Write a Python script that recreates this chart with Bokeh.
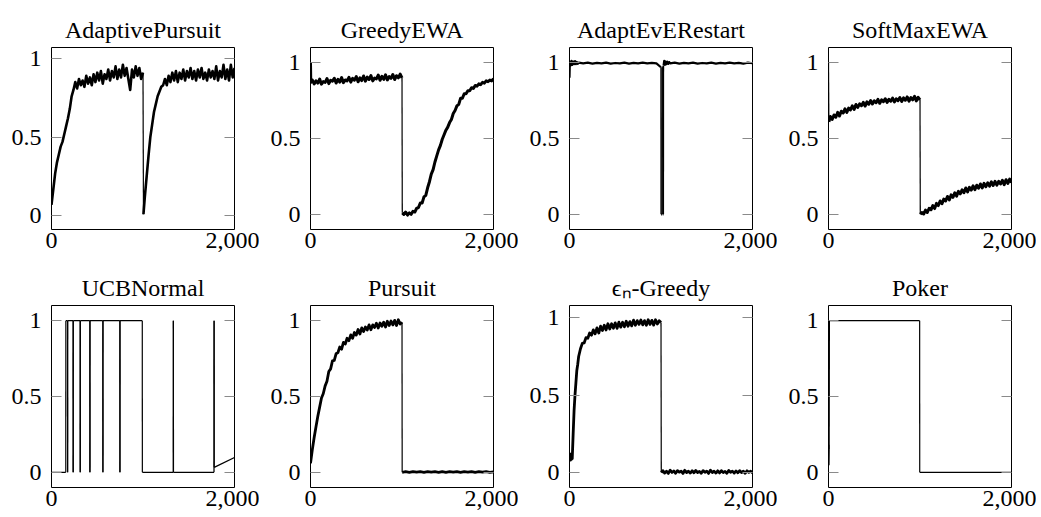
from bokeh.plotting import figure
from bokeh.layouts import gridplot
from bokeh.models import Range1d, FixedTicker, LinearAxis
from bokeh.embed import file_html
from bokeh.resources import INLINE

# ---------------- data ----------------
titles = ["AdaptivePursuit", "GreedyEWA", "AdaptEvERestart", "SoftMaxEWA",
          "UCBNormal", "Pursuit", "\u03f5\u2099-Greedy", "Poker"]

x_ticks = [0, 2000]
x_tick_labels = {0: "0", 2000: "2,000"}
y_ticks = [0, 0.5, 1]
y_tick_labels = {0: "0", 0.5: "0.5", 1: "1"}

y_ranges = [(-0.087, 1.07), (-0.1, 1.1), (-0.1, 1.1), (-0.1, 1.1),
            (-0.1, 1.1), (-0.1, 1.1), (-0.097, 1.08), (-0.1, 1.1)]

# AdaptivePursuit
ap_x = list(range(0, 1000, 20)) + [1000, 1005] + list(range(1020, 2001, 20))
ap_y = [0.07, 0.17, 0.27, 0.34, 0.39, 0.44, 0.47, 0.52, 0.57, 0.62,
        0.68, 0.76, 0.80, 0.85, 0.81, 0.87, 0.83, 0.86, 0.82, 0.89,
        0.84, 0.88, 0.83, 0.90, 0.85, 0.91, 0.86, 0.92, 0.84, 0.90,
        0.87, 0.93, 0.86, 0.92, 0.88, 0.95, 0.87, 0.93, 0.88, 0.96,
        0.89, 0.94, 0.87, 0.80, 0.93, 0.88, 0.95, 0.89, 0.94, 0.87,
        0.91, 0.01,
        0.12, 0.25, 0.38, 0.50, 0.58, 0.66, 0.71, 0.76, 0.79, 0.82,
        0.83, 0.87, 0.83, 0.89, 0.85, 0.91, 0.86, 0.92, 0.85, 0.91,
        0.87, 0.93, 0.86, 0.92, 0.88, 0.94, 0.87, 0.92, 0.86, 0.93,
        0.88, 0.94, 0.87, 0.91, 0.86, 0.93, 0.88, 0.92, 0.87, 0.95,
        0.86, 0.92, 0.88, 0.96, 0.87, 0.93, 0.86, 0.96, 0.88, 0.94]

# GreedyEWA
ge_x = [0, 3] + list(range(20, 1000, 20)) + [1000, 1003] + list(range(1020, 2001, 20))
ge_y = [1.0, 0.87,
        0.885, 0.86, 0.88, 0.865, 0.892, 0.858, 0.875, 0.87, 0.895, 0.862,
        0.884, 0.878, 0.897, 0.866, 0.89, 0.872, 0.902, 0.868, 0.886, 0.88,
        0.903, 0.872, 0.897, 0.885, 0.908, 0.874, 0.9, 0.882, 0.912, 0.878,
        0.905, 0.889, 0.915, 0.88, 0.898, 0.893, 0.918, 0.884, 0.91, 0.89,
        0.92, 0.886, 0.908, 0.897, 0.922, 0.889, 0.914, 0.9, 0.925,
        0.90, 0.01,
        0.00, 0.015, -0.005, 0.01, 0.0, 0.02, 0.015, 0.04, 0.045, 0.075,
        0.075, 0.115, 0.125, 0.175, 0.215, 0.265, 0.295, 0.345, 0.385, 0.425,
        0.455, 0.495, 0.525, 0.555, 0.575, 0.605, 0.625, 0.665, 0.685, 0.715,
        0.725, 0.765, 0.765, 0.795, 0.795, 0.815, 0.815, 0.835, 0.83, 0.85,
        0.845, 0.86, 0.855, 0.87, 0.865, 0.88, 0.875, 0.885, 0.88, 0.895]

# AdaptEvERestart
ae_x = ([0, 4, 10, 20, 30, 40, 50, 60, 70, 80, 90, 100] + list(range(150, 1000, 50))
        + [999, 1000, 1009, 1010, 1018, 1019, 1027, 1028, 1035, 1042, 1050, 1060,
           1070, 1080, 1090, 1100]
        + list(range(1150, 2001, 50)))
ae_y = [0.9, 1.0, 0.98, 1.012, 0.985, 1.008, 0.99, 1.01, 0.99, 1.005, 0.992, 1.0,
        0.995, 1.0, 0.994, 0.999, 0.995, 1.0, 0.994, 0.998, 0.995, 1.0, 0.994, 0.999,
        0.995, 1.0, 0.995, 0.999, 0.995,
        0.97, 0.0, 0.0, 0.97, 0.97, 0.0, 0.0, 0.98, 1.012, 0.985, 1.008, 0.99,
        1.006, 0.992, 1.004, 0.995,
        1.0, 0.994, 0.999, 0.995, 1.0, 0.994, 0.998, 0.995, 1.0, 0.994, 0.999, 0.995,
        1.0, 0.995, 0.999, 0.994, 1.0, 0.996]

# SoftMaxEWA
sm_x = [0, 4] + list(range(20, 1000, 20)) + [1000, 1003] + list(range(1020, 2001, 20))
sm_y = [1.0, 0.61,
        0.645, 0.625, 0.655, 0.64, 0.672, 0.648, 0.68, 0.668, 0.695, 0.672,
        0.70, 0.688, 0.715, 0.692, 0.724, 0.705, 0.728, 0.716, 0.738, 0.714,
        0.742, 0.726, 0.75, 0.728, 0.748, 0.736, 0.758, 0.732, 0.755, 0.743,
        0.762, 0.738, 0.758, 0.746, 0.766, 0.741, 0.762, 0.75, 0.77, 0.744,
        0.768, 0.752, 0.774, 0.746, 0.77, 0.755, 0.778, 0.748, 0.772,
        0.755, 0.0,
        0.012, 0.002, 0.028, 0.012, 0.04, 0.03, 0.058, 0.038, 0.072, 0.058,
        0.088, 0.07, 0.10, 0.088, 0.118, 0.095, 0.128, 0.112, 0.142, 0.12,
        0.152, 0.135, 0.162, 0.142, 0.174, 0.148, 0.178, 0.16, 0.188, 0.163,
        0.192, 0.172, 0.2, 0.174, 0.204, 0.182, 0.208, 0.186, 0.214, 0.19,
        0.218, 0.192, 0.217, 0.2, 0.224, 0.196, 0.228, 0.204, 0.232, 0.21]

# UCBNormal
ucb_x = [0, 156, 157, 175, 176, 177, 236, 237, 238, 313, 314, 315, 419, 420, 421,
         561, 562, 563, 747, 748, 749, 992, 993, 1331, 1332, 1333, 1776, 1777, 1778, 2000]
ucb_y = [0, 0, 1, 1, 0, 1, 1, 0, 1, 1, 0, 1, 1, 0, 1,
         1, 0, 1, 1, 0, 1, 1, 0, 0, 1, 0, 0, 1, 0.033, 0.098]

# Pursuit
pu_x = list(range(0, 1000, 20)) + [1000, 1002] + list(range(1040, 2001, 40))
pu_y = [0.06, 0.15, 0.23, 0.30, 0.37, 0.43, 0.49, 0.52, 0.57, 0.60,
        0.665, 0.682, 0.735, 0.738, 0.782, 0.79, 0.826, 0.812, 0.857, 0.846,
        0.884, 0.868, 0.906, 0.884, 0.922, 0.905, 0.942, 0.912, 0.952, 0.928,
        0.958, 0.938, 0.972, 0.94, 0.972, 0.955, 0.983, 0.952, 0.985, 0.963,
        0.99, 0.958, 0.996, 0.968, 0.998, 0.972, 1.002, 0.968, 1.006, 0.978,
        0.99, 0.0,
        0.004, 0.0, 0.005, 0.001, 0.004, 0.0, 0.005, 0.001, 0.004, 0.0,
        0.005, 0.0, 0.004, 0.001, 0.005, 0.0, 0.004, 0.001, 0.005, 0.0,
        0.004, 0.001, 0.005, 0.0, 0.003]

# epsilon_n-Greedy
eg_x = ([0, 5, 10, 15, 20, 25, 30, 40, 50, 60, 70, 80, 90, 100] + list(range(120, 1000, 20))
        + [1000, 1003] + list(range(1020, 2001, 20)))
eg_y = [0.10, 0.12, 0.08, 0.115, 0.085, 0.10, 0.09, 0.25, 0.40, 0.50, 0.58, 0.66, 0.70, 0.75,
        0.80, 0.835, 0.838, 0.872, 0.868, 0.902, 0.888, 0.922, 0.897, 0.935,
        0.902, 0.946, 0.918, 0.952, 0.922, 0.962, 0.928, 0.962, 0.933, 0.968,
        0.932, 0.972, 0.94, 0.972, 0.942, 0.978, 0.946, 0.976, 0.948, 0.985,
        0.952, 0.982, 0.958, 0.986, 0.955, 0.982, 0.952, 0.988, 0.958, 0.984,
        0.953, 0.988, 0.96, 0.982,
        0.97, 0.0,
        0.012, -0.004, 0.008, -0.006, 0.015, 0.0, 0.01, -0.005, 0.012, 0.002,
        0.009, -0.006, 0.014, 0.0, 0.008, -0.004, 0.011, -0.002, 0.013, 0.0,
        0.007, -0.005, 0.012, 0.001, 0.009, -0.006, 0.015, 0.0, 0.008, -0.004,
        0.011, -0.003, 0.012, 0.0, 0.007, -0.005, 0.013, 0.001, 0.009, -0.004,
        0.01, -0.002, 0.012, 0.0, 0.008, -0.005, 0.011, 0.001, 0.009, -0.003]

# Poker
pk_x = [0, 3, 5, 7, 10, 996, 997, 2000]
pk_y = [0.05, 0.18, 0.05, 0.15, 1.0, 1.0, 0.0, 0.0]

series = [(ap_x, ap_y), (ge_x, ge_y), (ae_x, ae_y), (sm_x, sm_y),
          (ucb_x, ucb_y), (pu_x, pu_y), (eg_x, eg_y), (pk_x, pk_y)]

# ---------------- styling ----------------
FONT = "Liberation Serif"
band_widths = [2.6, 3.0, 2.2, 3.0, 1.3, 2.8, 2.8, 1.3]
jump_width = 1.2
TICK_COLOR = "#8a8a8a"


def draw_series(p, xs, ys, band_w):
    # thin strokes for the abrupt jumps, heavier strokes for the noisy runs
    start = 0
    for k in range(1, len(xs)):
        if abs(ys[k] - ys[k - 1]) > 0.3:
            if k - 1 > start:
                p.line(xs[start:k], ys[start:k], line_color="black",
                       line_width=band_w, line_join="round")
            p.line(xs[k - 1:k + 1], ys[k - 1:k + 1], line_color="black",
                   line_width=jump_width)
            start = k
    if len(xs) - 1 > start:
        p.line(xs[start:], ys[start:], line_color="black",
               line_width=band_w, line_join="round")


def make_panel(idx):
    row_i = idx // 4
    top = 47 if row_i == 0 else 46
    p = figure(frame_width=183, frame_height=182,
               min_border_left=51, min_border_right=25,
               min_border_top=top, min_border_bottom=30,
               x_range=Range1d(0, 2000), y_range=Range1d(*y_ranges[idx]),
               output_backend="svg", toolbar_location=None,
               title=titles[idx])
    p.title.text_font = FONT
    p.title.text_font_size = "24px"
    p.title.text_font_style = "normal"
    p.title.align = "center"
    p.title.text_color = "black"
    p.title.standoff = 10

    p.background_fill_color = "white"
    p.border_fill_color = "white"
    p.outline_line_color = "black"
    p.outline_line_width = 1
    p.grid.visible = False

    xs, ys = series[idx]
    draw_series(p, xs, ys, band_widths[idx])

    xa = p.xaxis[0]
    xa.ticker = FixedTicker(ticks=x_ticks)
    xa.major_label_overrides = x_tick_labels
    xa.axis_line_color = None
    xa.major_tick_in = 0
    xa.major_tick_out = 0
    xa.minor_tick_line_color = None
    xa.major_label_standoff = 3
    xa.major_label_text_font = FONT
    xa.major_label_text_font_size = "24px"
    xa.major_label_text_color = "black"

    ya = p.yaxis[0]
    ya.ticker = FixedTicker(ticks=y_ticks)
    ya.major_label_overrides = y_tick_labels
    ya.axis_line_color = None
    ya.major_tick_in = 10
    ya.major_tick_out = 0
    ya.major_tick_line_color = TICK_COLOR
    ya.major_tick_line_width = 1
    ya.minor_tick_line_color = None
    ya.major_label_standoff = 10
    ya.major_label_text_font = FONT
    ya.major_label_text_font_size = "24px"
    ya.major_label_text_color = "black"

    ra = LinearAxis(ticker=FixedTicker(ticks=y_ticks),
                    major_label_overrides={0: "", 0.5: "", 1: ""},
                    major_label_text_font_size="1px",
                    major_label_standoff=0,
                    axis_line_color=None, major_tick_in=10, major_tick_out=0,
                    major_tick_line_color=TICK_COLOR, major_tick_line_width=1,
                    minor_tick_line_color=None)
    p.add_layout(ra, "right")
    return p


panels = [make_panel(i) for i in range(8)]
grid = gridplot([panels[0:4], panels[4:8]], toolbar_location=None)

open("out.html", "w").write(file_html(grid, INLINE))
